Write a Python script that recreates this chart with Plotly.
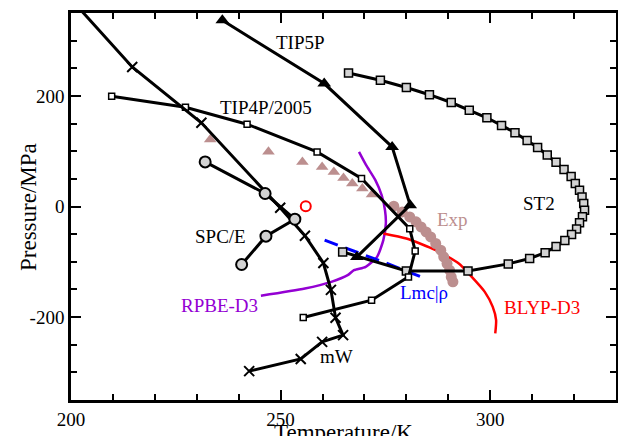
import plotly.graph_objects as go

# ---- data (Temperature K, Pressure MPa) ----
tip5p_T = [236.1, 260.4, 276.6, 280.9, 268.2]
tip5p_P = [336.9, 222.4, 107.8, 2.4, -91.2]

tip4p_T = [209.7, 227.3, 242.0, 258.7, 269.3, 280.8, 282.1, 280.5, 271.7, 255.4]
tip4p_P = [199.5, 179.6, 148.8, 98.7, 50.6, -40.1, -80.3, -127.3, -169.4, -200.7]

st2_T = [266.2, 273.8, 280.0, 285.5, 290.7, 295.0, 299.2, 302.7, 305.9, 308.8, 311.3,
         313.6, 315.7, 317.6, 319.3, 320.3, 321.3, 321.9, 322.3, 322.5, 322.0, 321.3,
         320.6, 319.4, 317.8, 315.7, 313.1, 309.4, 304.3, 294.7, 280.0, 264.8]
st2_P = [241.6, 228.4, 215.2, 202.2, 188.1, 174.1, 160.5, 146.7, 133.5, 119.5, 106.7,
         93.1, 80.1, 66.9, 54.2, 41.8, 29.5, 17.4, 5.4, -6.7, -18.4, -29.3,
         -40.7, -50.6, -61.5, -72.3, -83.5, -94.0, -103.8, -116.5, -116.5, -82.1]

mw_T = [200.0, 214.6, 231.1, 249.9, 255.8, 260.2, 262.0, 263.1, 264.9, 259.9, 254.8, 242.5]
mw_P = [375.0, 252.4, 151.5, -2.2, -52.8, -102.2, -150.8, -201.1, -232.7, -244.8, -275.8, -297.8]

spce_T = [232.0, 246.3, 253.4, 246.5, 240.7]
spce_P = [80.7, 23.5, -23.0, -53.7, -104.9]

exp_tri_T = [233.2, 247.1, 255.2, 259.9, 262.7, 265.0, 267.1, 269.5, 271.8]
exp_tri_P = [121.2, 99.1, 80.7, 71.6, 62.6, 51.7, 41.6, 32.5, 21.7]

exp_circ_T = [277.0, 279.0, 280.8, 282.3, 283.5, 284.7, 285.8, 287.0, 288.2, 288.9,
              289.7, 290.3, 290.7, 291.1]
exp_circ_P = [0.5, -9.8, -18.8, -27.8, -36.9, -45.9, -55.0, -66.9, -79.0, -91.1,
              -103.1, -115.2, -127.3, -136.3]

red_pt_T = [256.0]
red_pt_P = [0.5]

rpbe_T = [268.7, 270.4, 272.6, 274.1, 274.9, 275.1, 274.5, 273.0, 270.3, 267.5, 266.0,
          262.1, 255.8, 245.3]
rpbe_P = [98.7, 74.7, 47.6, 20.4, -6.7, -30.7, -60.9, -91.1, -109.2, -115.2, -124.2,
          -136.3, -148.3, -161.3]

blyp_T = [274.5, 280.0, 287.0, 292.5, 295.6, 298.7, 300.6, 301.4, 301.2]
blyp_P = [-48.8, -57.9, -79.0, -103.1, -127.3, -154.4, -181.6, -205.6, -229.7]

lmc_T = [260.5, 275.2, 284.3]
lmc_P = [-60.9, -102.5, -129.7]

x_tick_vals = [200, 250, 300]
x_tick_text = ["200", "250", "300"]
y_tick_vals = [-200, 0, 200]
y_tick_text = ["-200", "0", "200"]

# labels: text, T, P, color
label_text = ["TIP5P", "TIP4P/2005", "ST2", "SPC/E", "RPBE-D3", "Lmc|ρ", "BLYP-D3", "mW", "Exp"]
label_T = [254.7, 246.5, 311.7, 235.7, 235.4, 284.1, 312.4, 263.3, 290.9]
label_P = [297, 179.6, 5.6, -55, -178.5, -155, -182, -271, -23]
label_color = ["black", "black", "black", "black", "#9400D3", "#0000FF", "#FF0000", "black", "#BC8F8F"]

FONT = "Liberation Serif, Times New Roman, serif"

fig = go.Figure()

fig.add_trace(go.Scatter(x=rpbe_T, y=rpbe_P, mode="lines",
                         line=dict(color="#9400D3", width=2.5, shape="spline", smoothing=0.6)))
fig.add_trace(go.Scatter(x=blyp_T, y=blyp_P, mode="lines",
                         line=dict(color="#FF0000", width=2.5, shape="spline", smoothing=0.6)))
fig.add_trace(go.Scatter(x=exp_tri_T, y=exp_tri_P, mode="markers",
                         marker=dict(symbol="triangle-up", size=11, color="#BC8F8F")))
fig.add_trace(go.Scatter(x=exp_circ_T, y=exp_circ_P, mode="markers",
                         marker=dict(symbol="circle", size=11, color="#BC8F8F")))
fig.add_trace(go.Scatter(x=lmc_T, y=lmc_P, mode="lines",
                         line=dict(color="#0000FF", width=3, dash="14px,8px")))
fig.add_trace(go.Scatter(x=st2_T, y=st2_P, mode="lines+markers",
                         line=dict(color="black", width=3),
                         marker=dict(symbol="square", size=8, color="#D3D3D3",
                                     line=dict(color="black", width=1.5))))
fig.add_trace(go.Scatter(x=tip4p_T, y=tip4p_P, mode="lines+markers",
                         line=dict(color="black", width=3),
                         marker=dict(symbol="square", size=6, color="white",
                                     line=dict(color="black", width=1.5))))
fig.add_trace(go.Scatter(x=tip5p_T, y=tip5p_P, mode="lines+markers",
                         line=dict(color="black", width=3),
                         marker=dict(symbol="triangle-up", size=12, color="black")))
fig.add_trace(go.Scatter(x=mw_T, y=mw_P, mode="lines+markers",
                         line=dict(color="black", width=3),
                         marker=dict(symbol="x-thin", size=10, color="black",
                                     line=dict(color="black", width=2))))
fig.add_trace(go.Scatter(x=spce_T, y=spce_P, mode="lines+markers",
                         line=dict(color="black", width=3),
                         marker=dict(symbol="circle", size=11, color="#D3D3D3",
                                     line=dict(color="black", width=2))))
fig.add_trace(go.Scatter(x=red_pt_T, y=red_pt_P, mode="markers",
                         marker=dict(symbol="circle-open", size=10, color="#FF0000",
                                     line=dict(color="#FF0000", width=2))))

for t, x, y, c in zip(label_text, label_T, label_P, label_color):
    fig.add_annotation(x=x, y=y, xref="x", yref="y", text=t, showarrow=False,
                       font=dict(family=FONT, size=19, color=c))

# axis titles
fig.add_annotation(x=0.5, y=-0.083, xref="paper", yref="paper", text="Temperature/K",
                   showarrow=False, xanchor="center", yanchor="middle",
                   font=dict(family=FONT, size=23, color="black"))
fig.add_annotation(x=-0.078, y=0.5, xref="paper", yref="paper", text="Pressure/MPa",
                   showarrow=False, xanchor="center", yanchor="middle", textangle=-90,
                   font=dict(family=FONT, size=23, color="black"))

axis_common = dict(
    showgrid=False, zeroline=False, showline=True, linecolor="black", linewidth=2.5,
    mirror="allticks", ticks="inside", ticklen=10, tickwidth=2, tickcolor="black",
    tickfont=dict(family=FONT, size=19, color="black"), automargin=False,
)

fig.update_xaxes(range=[200, 330], tickmode="array", tickvals=x_tick_vals, ticktext=x_tick_text,
                 minor=dict(ticks="inside", dtick=10, tick0=200, ticklen=6, tickwidth=2,
                            tickcolor="black"),
                 **axis_common)
fig.update_yaxes(range=[-350, 350], tickmode="array", tickvals=y_tick_vals, ticktext=y_tick_text,
                 minor=dict(ticks="inside", dtick=50, tick0=0, ticklen=6, tickwidth=2,
                            tickcolor="black"),
                 **axis_common)

# the page adds an 8px body margin; keep the whole page inside the 626x444 window
fig.update_layout(width=610, height=428, showlegend=False,
                  margin=dict(l=63, r=2, t=5, b=36),
                  plot_bgcolor="white", paper_bgcolor="white")

fig.write_html("out.html")
